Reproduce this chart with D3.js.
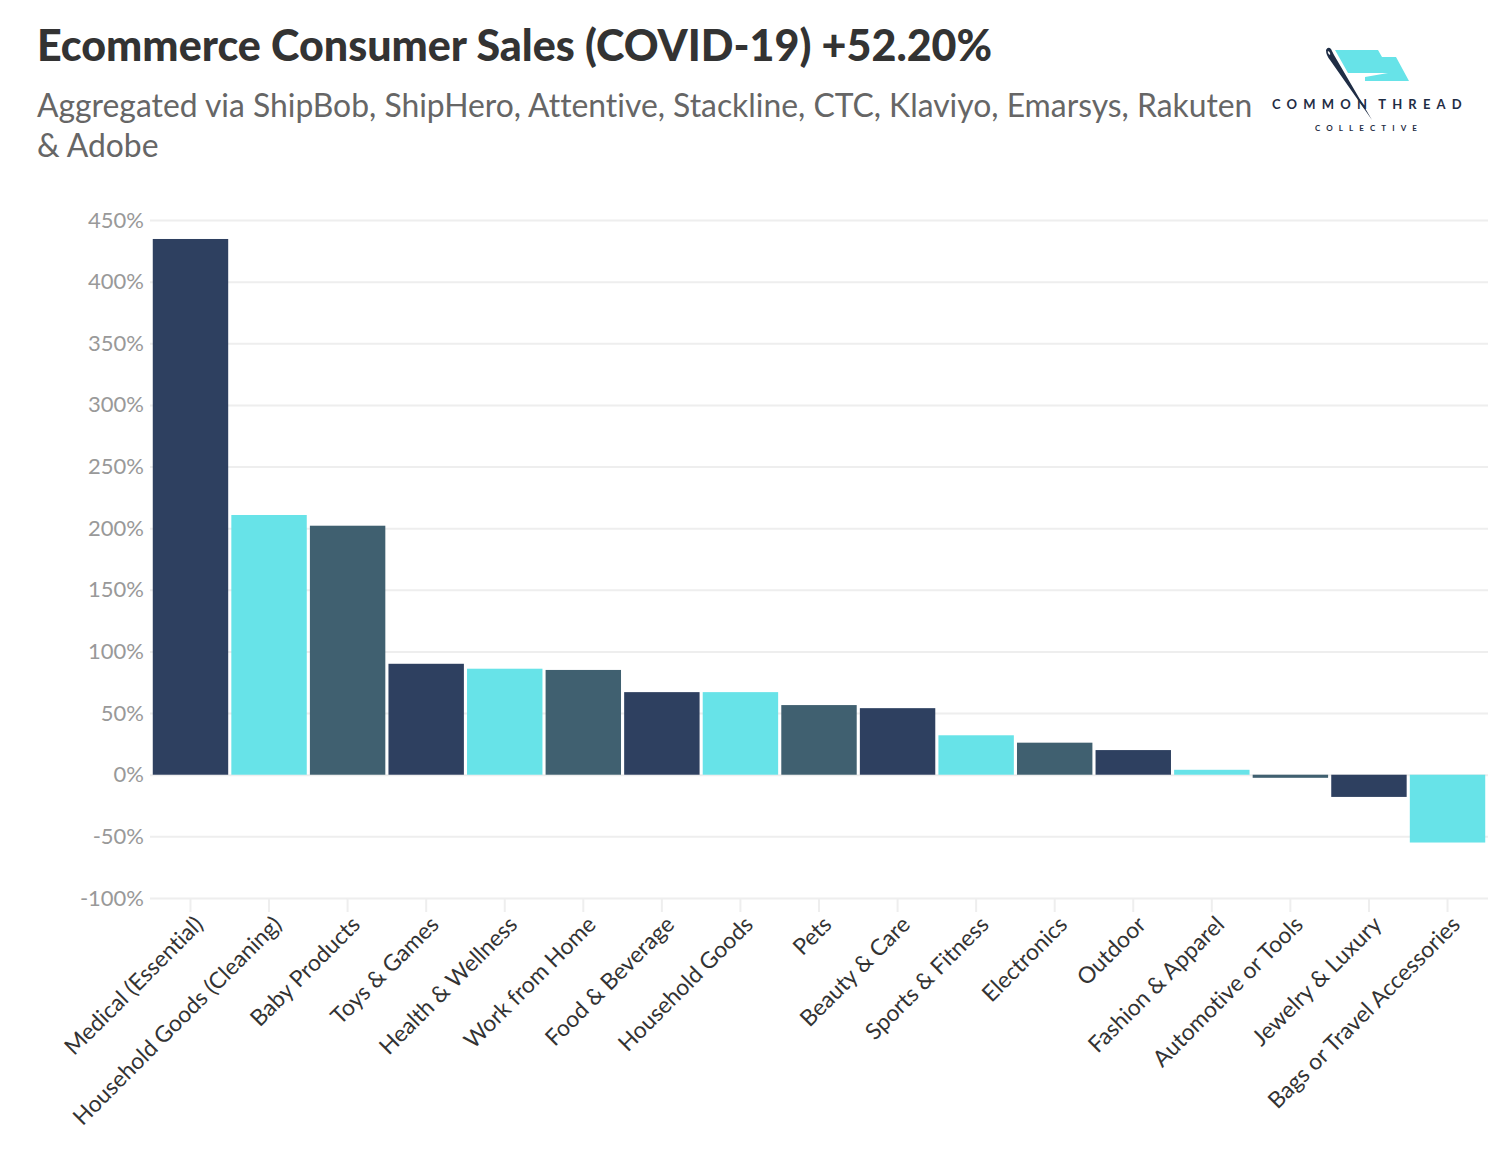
<!DOCTYPE html>
<html>
<head>
<meta charset="utf-8">
<script src="https://cdn.jsdelivr.net/npm/d3@7"></script>
<style>
  html, body { margin: 0; padding: 0; background: #fff; }
  svg { display: block; }
  text { font-family: Lato, "Noto Sans", sans-serif; font-variant-ligatures: none; }
</style>
</head>
<body>
<div id="chart"></div>
<script>
const categories = ['Medical (Essential)', 'Household Goods (Cleaning)', 'Baby Products', 'Toys & Games',
  'Health & Wellness', 'Work from Home', 'Food & Beverage', 'Household Goods', 'Pets', 'Beauty & Care',
  'Sports & Fitness', 'Electronics', 'Outdoor', 'Fashion & Apparel', 'Automotive or Tools',
  'Jewelry & Luxury', 'Bags or Travel Accessories'];
const values = [434.6, 210.7, 202, 90, 86, 85, 67, 67, 56.5, 54, 32, 26, 20, 4, -2.5, -18, -55];
const yTicks = [-100, -50, 0, 50, 100, 150, 200, 250, 300, 350, 400, 450];
const palette = ['#2e4060', '#67e3e8', '#406070'];

const width = 1510;
const height = 1152;

const svg = d3.select('#chart').append('svg')
  .attr('width', width)
  .attr('height', height);

// header
svg.append('text')
  .attr('x', 37).attr('y', 61)
  .attr('font-size', 43).attr('font-weight', 900).attr('fill', '#333')
  .text('Ecommerce Consumer Sales (COVID-19) +52.20%');
svg.append('text')
  .attr('x', 37).attr('y', 117)
  .attr('font-size', 31.85).attr('fill', '#666')
  .text('Aggregated via ShipBob, ShipHero, Attentive, Stackline, CTC, Klaviyo, Emarsys, Rakuten');
svg.append('text')
  .attr('x', 37).attr('y', 157)
  .attr('font-size', 31.85).attr('fill', '#666')
  .text('& Adobe');

// scales
const x = d3.scaleBand().domain(categories).range([151.2, 1486.8]).paddingInner(0.04).paddingOuter(0.02);
const y = d3.scaleLinear().domain([-100, 450]).range([898, 220]);

// y axis with gridlines
const yAxis = svg.append('g')
  .attr('transform', 'translate(150,0)')
  .call(d3.axisLeft(y).tickValues(yTicks).tickSize(-1338).tickPadding(6).tickFormat(d => d + '%'));
yAxis.select('.domain').remove();
yAxis.selectAll('.tick line').attr('stroke', '#eeeeee').attr('stroke-width', 2);
yAxis.selectAll('.tick text').attr('font-size', 22).attr('fill', '#999');

// x axis
const xAxis = svg.append('g')
  .attr('transform', 'translate(0,898)')
  .call(d3.axisBottom(x).tickSize(14).tickPadding(0));
xAxis.select('.domain').remove();
xAxis.selectAll('.tick line').attr('stroke', '#eeeeee').attr('stroke-width', 2);
xAxis.selectAll('.tick text')
  .attr('font-size', 22.8).attr('fill', '#333')
  .attr('text-anchor', 'end')
  .attr('dy', 0).attr('y', 0)
  .attr('transform', 'translate(14,28) rotate(-45)');

// bars
svg.append('g').selectAll('rect')
  .data(values)
  .enter()
  .append('rect')
  .attr('x', (d, i) => x(categories[i]))
  .attr('width', x.bandwidth())
  .attr('y', d => Math.min(y(d), y(0)))
  .attr('height', d => Math.abs(y(d) - y(0)))
  .attr('fill', (d, i) => palette[i % 3]);

// logo
const logo = svg.append('g').attr('transform', 'translate(1250,30)');
logo.append('path')
  .attr('d', 'M85 20 L128 20 L132 27 L146 27 L159 51 L115 51 L115 47 L138 43 L98 43 Z')
  .attr('fill', '#67e3e8');
logo.append('text')
  .attr('x', 22).attr('y', 79)
  .attr('font-size', 13).attr('font-weight', 700).attr('fill', '#1f2d45')
  .attr('letter-spacing', 6.2).attr('word-spacing', -4)
  .text('COMMON THREAD');
logo.append('text')
  .attr('x', 65).attr('y', 101)
  .attr('font-size', 8).attr('font-weight', 700).attr('fill', '#1f2d45')
  .attr('letter-spacing', 6.1)
  .text('COLLECTIVE');
logo.append('path')
  .attr('d', 'M76 20 Q78 16 81 19 L84 25 L122 90 L80 30 Q76 25 76 20 Z')
  .attr('fill', '#1f2d45');
logo.append('ellipse')
  .attr('cx', 79).attr('cy', 23).attr('rx', 0.8).attr('ry', 2)
  .attr('transform', 'rotate(-30 79 23)')
  .attr('fill', '#fff');
</script>
</body>
</html>
